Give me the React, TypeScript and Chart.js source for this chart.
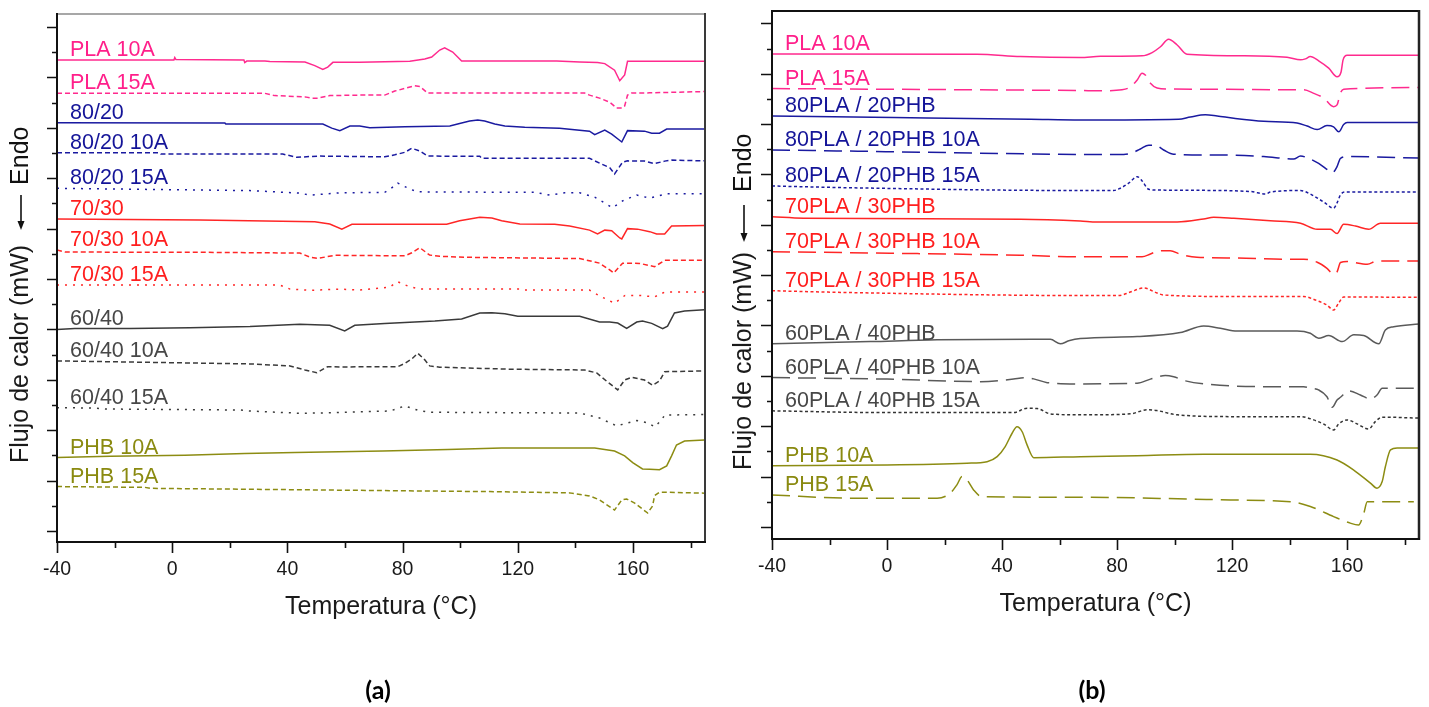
import { useEffect, useRef } from "react";
import { Chart, registerables } from "chart.js";

Chart.register(...registerables);

type Pt = [number, number];

// ---------------- shared axes ----------------
const tempMin = -40;
const tempMax = 185;
const xMajorTicks = [-40, 0, 40, 80, 120, 160];
const xMinorTicks = [-20, 20, 60, 100, 140, 180];
const yTicks = [0, 1, 2, 3, 4, 5, 6, 7, 8, 9, 10, 11, 12, 13, 14, 15, 16, 17, 18, 19, 20];
const yMajorTicks = [0, 2, 4, 6, 8, 10, 12, 14, 16, 18, 20];
const xTitle = "Temperatura (°C)";
const yTitle = "Flujo de calor (mW)";
const endoText = "Endo";

// ---------------- panel (a) ----------------
const namesA = ["PLA 10A", "PLA 15A", "80/20", "80/20 10A", "80/20 15A", "70/30", "70/30 10A", "70/30 15A", "60/40", "60/40 10A", "60/40 15A", "PHB 10A", "PHB 15A"];

const a_PLA10A: Pt[] = [[-40,18.69],[0.6,18.69],[0.9,18.79],[1.3,18.71],[24.9,18.69],[25.2,18.59],[25.9,18.65],[32.2,18.65],[33.9,18.63],[46.1,18.61],[49.5,18.47],[52.3,18.32],[54.0,18.41],[55.8,18.60],[65.1,18.60],[82.5,18.64],[87.7,18.73],[90.1,18.81],[92.9,19.09],[94.6,19.18],[97.4,19.01],[100.5,18.65],[133.5,18.65],[141.5,18.61],[147.7,18.59],[150.2,18.55],[153.6,18.29],[155.4,17.87],[157.1,18.10],[158.1,18.64],[184.8,18.64]];
const a_PLA15A: Pt[] = [[-40,17.37],[32.2,17.37],[35.6,17.28],[46.1,17.23],[48.5,17.18],[50.6,17.18],[54.7,17.28],[65.1,17.30],[73.8,17.30],[77.3,17.46],[84.2,17.67],[86.0,17.64],[88.7,17.38],[143.2,17.38],[144.9,17.30],[148.4,17.18],[151.9,17.02],[154.3,16.79],[156.1,16.79],[157.1,16.87],[158.1,17.30],[159.5,17.38],[165.8,17.39],[184.8,17.44]];
const a_8020: Pt[] = [[-40,16.20],[18.3,16.19],[18.6,16.15],[52.3,16.15],[55.4,15.99],[58.2,15.89],[61.7,16.07],[65.1,16.07],[68.6,16.00],[80.8,16.04],[96.4,16.07],[99.8,16.17],[103.3,16.27],[106.1,16.31],[108.5,16.27],[112.0,16.15],[115.5,16.07],[122.4,16.02],[134.5,15.98],[144.9,15.87],[146.7,15.73],[150.2,15.91],[152.6,15.75],[156.1,15.44],[158.1,15.89],[164.0,15.87],[166.5,15.79],[169.2,15.79],[171.7,15.95],[184.8,15.95]];
const a_8020_10A: Pt[] = [[-40,15.01],[-4.3,15.01],[-3.9,14.96],[38.4,14.96],[43.3,14.83],[50.6,14.88],[73.8,14.85],[77.3,14.93],[80.8,15.03],[83.2,15.19],[86.0,15.08],[88.7,14.88],[106.8,14.87],[107.5,14.79],[144.9,14.79],[148.4,14.60],[151.9,14.42],[153.6,14.17],[156.4,14.64],[158.1,14.69],[164.0,14.68],[167.5,14.58],[171.0,14.68],[173.4,14.72],[184.8,14.69]];
const a_8020_15A: Pt[] = [[-40,13.60],[27.0,13.51],[44.3,13.41],[47.8,13.33],[58.2,13.42],[73.8,13.44],[75.6,13.56],[78.3,13.81],[82.5,13.57],[85.3,13.46],[125.9,13.44],[131.1,13.33],[136.3,13.42],[141.5,13.42],[146.7,13.25],[152.9,12.83],[156.8,13.13],[161.3,13.33],[165.8,13.21],[171.7,13.38],[184.8,13.38]];
const a_7030: Pt[] = [[-40,12.38],[9.6,12.34],[49.5,12.27],[54.7,12.18],[58.9,11.98],[62.4,12.17],[95.3,12.17],[99.8,12.31],[103.3,12.38],[106.8,12.45],[111.0,12.42],[114.4,12.31],[120.7,12.18],[132.8,12.17],[138.0,12.10],[144.9,11.94],[147.7,11.79],[150.2,11.94],[152.6,11.92],[155.4,11.63],[156.1,11.59],[158.1,12.00],[161.6,11.98],[165.8,11.88],[168.2,11.79],[171.0,11.79],[173.4,12.10],[184.8,12.12]];
const a_7030_10A: Pt[] = [[-40,11.15],[-37.2,11.07],[9.6,11.06],[44.3,11.03],[47.8,10.87],[50.6,10.82],[56.5,10.94],[80.8,10.92],[83.2,11.04],[86.0,11.24],[89.4,10.95],[92.9,10.90],[103.3,10.86],[127.6,10.83],[141.5,10.81],[148.4,10.63],[151.9,10.36],[153.3,10.24],[156.4,10.63],[162.3,10.62],[167.5,10.49],[171.0,10.74],[184.8,10.74]];
const a_7030_15A: Pt[] = [[-40,9.76],[37.4,9.76],[40.9,9.60],[47.8,9.55],[58.2,9.60],[65.1,9.56],[75.6,9.68],[77.3,9.83],[78.3,9.89],[81.8,9.72],[86.0,9.60],[120.7,9.60],[122.4,9.56],[144.9,9.56],[148.4,9.33],[153.6,9.04],[157.1,9.34],[162.3,9.35],[167.5,9.29],[171.0,9.48],[184.8,9.48]];
const a_6040: Pt[] = [[-40,8.00],[-33.8,8.04],[-14.7,8.04],[6.2,8.07],[27.0,8.11],[44.3,8.20],[54.7,8.16],[59.9,7.94],[63.4,8.16],[73.8,8.23],[82.5,8.28],[91.2,8.33],[100.5,8.41],[106.8,8.65],[111.0,8.66],[115.5,8.62],[120.0,8.52],[141.5,8.52],[148.4,8.29],[151.9,8.29],[154.7,8.25],[157.8,8.04],[161.3,8.29],[163.3,8.33],[166.5,8.24],[170.3,8.03],[172.0,8.13],[174.4,8.65],[177.9,8.73],[184.8,8.78]];
const a_6040_10A: Pt[] = [[-40,6.75],[-18.1,6.71],[27.0,6.63],[40.9,6.55],[46.1,6.39],[50.2,6.28],[54.0,6.52],[58.2,6.51],[78.3,6.52],[80.8,6.65],[83.2,6.83],[85.3,7.05],[87.7,6.79],[89.4,6.55],[92.9,6.50],[117.2,6.42],[143.2,6.39],[147.4,6.27],[151.2,5.91],[154.7,5.60],[157.1,5.99],[159.5,6.10],[164.0,5.99],[166.8,5.78],[169.2,5.95],[171.0,6.32],[184.8,6.35]];
const a_6040_15A: Pt[] = [[-40,4.89],[-26.8,4.88],[-23.3,4.84],[23.5,4.80],[27.0,4.76],[44.3,4.67],[51.3,4.68],[59.9,4.71],[75.6,4.76],[80.8,4.96],[85.3,4.79],[89.4,4.71],[141.5,4.68],[148.4,4.48],[154.3,4.17],[157.1,4.25],[161.3,4.38],[165.1,4.29],[167.5,4.13],[169.9,4.40],[171.0,4.60],[184.8,4.62]];
const a_PHB10A: Pt[] = [[-40,2.91],[-21.6,2.96],[4.4,3.00],[25.2,3.07],[42.6,3.11],[73.1,3.17],[95.7,3.23],[114.4,3.29],[146.7,3.29],[153.6,3.17],[157.1,2.98],[159.9,2.71],[163.3,2.46],[165.8,2.45],[169.2,2.43],[171.7,2.58],[173.4,2.98],[175.1,3.41],[177.9,3.57],[184.8,3.61]];
const a_PHB15A: Pt[] = [[-40,1.76],[-9.5,1.73],[-7.7,1.69],[39.1,1.64],[73.8,1.60],[110.3,1.56],[138.0,1.51],[144.9,1.39],[148.4,1.23],[153.6,0.83],[156.1,1.23],[157.8,1.27],[160.6,1.10],[165.1,0.71],[166.8,0.99],[167.5,1.40],[169.2,1.54],[184.8,1.50]];

// ---------------- panel (b) ----------------
const namesB = ["PLA 10A", "PLA 15A", "80PLA / 20PHB", "80PLA / 20PHB 10A", "80PLA / 20PHB 15A", "70PLA / 30PHB", "70PLA / 30PHB 10A", "70PLA / 30PHB 15A", "60PLA / 40PHB", "60PLA / 40PHB 10A", "60PLA / 40PHB 15A", "PHB 10A", "PHB 15A"];

const b_PLA10A: Pt[] = [[-40,18.78],[31.3,18.77],[46.4,18.68],[67.2,18.64],[74.2,18.69],[88.7,18.71],[92.2,18.84],[95.1,19.07],[97.9,19.37],[100.9,19.14],[104.3,18.77],[122.9,18.71],[139.1,18.65],[143.8,18.55],[145.5,18.59],[147.2,18.68],[150.1,18.51],[153.6,18.22],[156.5,17.88],[157.9,18.07],[158.6,18.55],[160.0,18.73],[185,18.73]];
const b_PLA15A: Pt[] = [[-40,17.41],[31.3,17.36],[67.2,17.33],[74.2,17.32],[81.7,17.36],[84.6,17.47],[87.0,17.75],[88.7,18.02],[89.8,17.95],[91.6,17.62],[93.9,17.43],[98.5,17.39],[118.3,17.38],[139.1,17.36],[144.9,17.36],[148.4,17.22],[151.9,17.03],[155.3,16.69],[156.5,16.76],[157.7,17.24],[158.8,17.38],[185,17.45]];
const b_8020: Pt[] = [[-40,16.32],[2.3,16.26],[49.8,16.19],[67.2,16.16],[101.4,16.19],[105.5,16.28],[110.7,16.37],[114.8,16.32],[120.6,16.23],[131.0,16.11],[142.6,16.04],[146.1,15.92],[149.6,15.78],[153.0,15.94],[155.3,15.89],[157.1,15.69],[158.8,15.98],[160.0,16.06],[185,16.06]];
const b_8020_10A: Pt[] = [[-40,14.97],[2.2,14.90],[57.8,14.80],[67.2,14.79],[82.3,14.79],[85.2,14.85],[88.1,15.01],[91.0,15.16],[93.3,15.16],[96.2,14.97],[99.7,14.80],[115.9,14.77],[131.0,14.71],[141.4,14.61],[143.8,14.73],[146.6,14.64],[150.1,14.44],[153.6,14.15],[154.8,14.06],[156.5,14.31],[157.7,14.64],[160.6,14.71],[185,14.65]];
const b_8020_15A: Pt[] = [[-40,13.54],[-12.8,13.47],[67.2,13.36],[78.8,13.36],[81.1,13.45],[84.0,13.65],[87.0,13.91],[88.7,13.74],[91.0,13.41],[93.9,13.38],[105.5,13.37],[126.4,13.32],[131.6,13.22],[133.3,13.30],[143.8,13.36],[147.2,13.22],[151.9,12.90],[155.3,12.66],[156.5,12.87],[157.7,13.19],[159.4,13.30],[185,13.30]];
const b_7030: Pt[] = [[-40,12.32],[-29.0,12.26],[46.4,12.22],[67.2,12.15],[73.0,12.11],[100.9,12.11],[110.1,12.23],[113.6,12.30],[120.6,12.26],[133.3,12.16],[143.8,12.06],[149.6,11.82],[154.2,11.82],[156.5,11.65],[158.8,12.02],[162.9,11.95],[167.5,11.82],[171.6,12.06],[185,12.06]];
const b_7030_10A: Pt[] = [[-40,10.93],[1.1,10.87],[46.4,10.79],[67.2,10.73],[88.7,10.73],[91.6,10.84],[94.5,10.96],[98.5,10.97],[102.0,10.83],[107.8,10.71],[121.7,10.68],[137.9,10.63],[144.9,10.63],[149.6,10.51],[153.0,10.27],[155.3,10.04],[156.5,10.13],[157.7,10.50],[160.0,10.54],[167.0,10.43],[170.4,10.56],[185,10.56]];
const b_7030_15A: Pt[] = [[-40,9.38],[-13.9,9.31],[67.2,9.19],[80.6,9.19],[84.6,9.33],[89.3,9.49],[93.9,9.29],[96.2,9.21],[121.7,9.15],[144.9,9.15],[149.0,9.01],[153.0,8.81],[155.3,8.61],[157.1,8.90],[158.8,9.13],[185,9.12]];
const b_6040: Pt[] = [[-40,7.27],[-5.8,7.36],[17.4,7.43],[56.8,7.45],[60.3,7.27],[63.2,7.39],[67.2,7.48],[87.0,7.56],[102.0,7.72],[110.1,7.98],[115.9,7.89],[121.7,7.78],[142.6,7.78],[147.2,7.69],[150.1,7.49],[153.6,7.60],[158.3,7.36],[162.3,7.63],[165.8,7.60],[171.0,7.27],[173.3,7.82],[176.2,7.95],[185,8.06]];
const b_6040_10A: Pt[] = [[-40,5.93],[0,5.87],[32.5,5.77],[44.0,5.87],[47.5,5.92],[51.0,5.88],[55.7,5.73],[67.2,5.68],[87.0,5.71],[91.6,5.87],[96.8,6.01],[99.7,5.96],[103.8,5.80],[110.1,5.68],[133.3,5.57],[144.9,5.57],[147.2,5.51],[150.1,5.44],[153.0,5.17],[154.8,4.75],[156.5,5.04],[157.7,5.15],[160.6,5.40],[164.6,5.24],[168.1,5.08],[170.4,5.24],[172.2,5.51],[185,5.51]];
const b_6040_15A: Pt[] = [[-40,4.61],[0,4.54],[44.0,4.54],[48.7,4.71],[52.2,4.70],[56.8,4.49],[67.2,4.45],[84.6,4.49],[90.4,4.65],[93.9,4.62],[100.9,4.45],[121.7,4.38],[143.8,4.38],[148.4,4.25],[151.9,4.08],[155.3,3.85],[157.1,4.09],[160.0,4.25],[163.5,4.09],[167.5,3.89],[169.8,4.18],[172.2,4.36],[185,4.32]];
const b_PHB10A: Pt[] = [[-40,2.43],[0,2.46],[27.8,2.53],[34.8,2.59],[38.3,2.79],[41.1,3.19],[43.5,3.72],[45.2,3.98],[47.0,3.78],[48.7,3.26],[51.0,2.75],[67.2,2.79],[87.0,2.83],[110.1,2.89],[147.2,2.89],[156.5,2.66],[162.3,2.26],[168.1,1.74],[170.4,1.54],[172.2,1.80],[173.3,2.39],[175.1,3.06],[177.4,3.13],[185,3.13]];
const b_PHB15A: Pt[] = [[-40,1.27],[-11.6,1.14],[17.4,1.14],[22.0,1.34],[24.3,1.67],[26.1,2.00],[27.8,1.87],[30.1,1.47],[33.0,1.20],[67.2,1.18],[104.3,1.11],[119.4,1.07],[140.3,1.00],[147.2,0.81],[155.3,0.41],[161.1,0.15],[164.0,0.08],[165.8,0.54],[167.0,1.00],[183.2,1.00]];

const seriesA = [a_PLA10A, a_PLA15A, a_8020, a_8020_10A, a_8020_15A, a_7030, a_7030_10A, a_7030_15A, a_6040, a_6040_10A, a_6040_15A, a_PHB10A, a_PHB15A];
const seriesB = [b_PLA10A, b_PLA15A, b_8020, b_8020_10A, b_8020_15A, b_7030, b_7030_10A, b_7030_15A, b_6040, b_6040_10A, b_6040_15A, b_PHB10A, b_PHB15A];

// ---------------- styles ----------------
const PINK = "#FF2A8E";
const BLUE = "#1A1AA0";
const RED = "#FF2626";
const GRAY_A = "#3A3A3A";
const GRAY_B = "#5A5A5A";
const OLIVE = "#8C8C12";

const DASH_A = [5, 3];
const DOT_A = [2, 6];
const DASH_B = [18, 8];
const DOT_B = [3, 2.5];

type Sty = { color: string; text: string; dash: number[] };
const stylesA: Sty[] = [
  { color: PINK, text: "#FF1F8A", dash: [] },
  { color: PINK, text: "#FF1F8A", dash: DASH_A },
  { color: BLUE, text: "#141498", dash: [] },
  { color: BLUE, text: "#141498", dash: DASH_A },
  { color: BLUE, text: "#141498", dash: DOT_A },
  { color: RED, text: "#FF1E1E", dash: [] },
  { color: RED, text: "#FF1E1E", dash: DASH_A },
  { color: RED, text: "#FF1E1E", dash: DOT_A },
  { color: GRAY_A, text: "#474747", dash: [] },
  { color: GRAY_A, text: "#474747", dash: DASH_A },
  { color: GRAY_A, text: "#474747", dash: DOT_A },
  { color: OLIVE, text: "#8A8A10", dash: [] },
  { color: OLIVE, text: "#8A8A10", dash: DASH_A },
];
const stylesB: Sty[] = [
  { color: PINK, text: "#FF1F8A", dash: [] },
  { color: PINK, text: "#FF1F8A", dash: DASH_B },
  { color: BLUE, text: "#141498", dash: [] },
  { color: BLUE, text: "#141498", dash: DASH_B },
  { color: BLUE, text: "#141498", dash: DOT_B },
  { color: RED, text: "#FF1E1E", dash: [] },
  { color: RED, text: "#FF1E1E", dash: DASH_B },
  { color: RED, text: "#FF1E1E", dash: DOT_B },
  { color: GRAY_B, text: "#474747", dash: [] },
  { color: GRAY_B, text: "#474747", dash: DASH_B },
  { color: "#333333", text: "#474747", dash: DOT_B },
  { color: OLIVE, text: "#8A8A10", dash: [] },
  { color: OLIVE, text: "#8A8A10", dash: DASH_B },
];

const FONT = '"Liberation Sans", Arial, sans-serif';

type PanelCfg = {
  id: string;
  series: Pt[][];
  names: string[];
  styles: Sty[];
  yMin: number;
  yMax: number;
  padding: { left: number; top: number; right: number; bottom: number };
  smooth: boolean;
  yLong: number;
  yShort: number;
  topColor: string;
  topWidth: number;
  rightColor: string;
  rightWidth: number;
  yTitleX: number;
  yTitleStart: number;
  arrowGap: number;
  arrowLen: number;
  endoGap: number;
  letter: string;
  letterX: number;
  letterY: number;
};

function makeDecor(cfg: PanelCfg) {
  return {
    id: "decor_" + cfg.id,
    afterDraw(chart: any) {
      const ctx: CanvasRenderingContext2D = chart.ctx;
      const ca = chart.chartArea;
      const xs = chart.scales.x;
      const ys = chart.scales.y;
      ctx.save();

      // curve labels
      ctx.font = `21.5px ${FONT}`;
      ctx.textAlign = "left";
      ctx.textBaseline = "alphabetic";
      cfg.series.forEach((s, i) => {
        ctx.fillStyle = cfg.styles[i].text;
        ctx.fillText(cfg.names[i], ca.left + 13, ys.getPixelForValue(s[0][1]) - 4);
      });

      // frame
      ctx.setLineDash([]);
      ctx.lineCap = "butt";
      ctx.strokeStyle = cfg.topColor;
      ctx.lineWidth = cfg.topWidth;
      ctx.beginPath();
      ctx.moveTo(ca.left, ca.top);
      ctx.lineTo(ca.right, ca.top);
      ctx.stroke();
      ctx.strokeStyle = cfg.rightColor;
      ctx.lineWidth = cfg.rightWidth;
      ctx.beginPath();
      ctx.moveTo(ca.right, ca.top - 1);
      ctx.lineTo(ca.right, ca.bottom + 1);
      ctx.stroke();
      ctx.strokeStyle = "#111";
      ctx.lineWidth = 2;
      ctx.beginPath();
      ctx.moveTo(ca.left, ca.top - 1);
      ctx.lineTo(ca.left, ca.bottom + 1);
      ctx.moveTo(ca.left - 1, ca.bottom);
      ctx.lineTo(ca.right + 1, ca.bottom);
      ctx.stroke();

      // y ticks
      ctx.lineWidth = 1.6;
      ctx.beginPath();
      yTicks.forEach((v) => {
        const py = Math.round(ys.getPixelForValue(v)) + 0.5;
        const len = yMajorTicks.includes(v) ? cfg.yLong : cfg.yShort;
        ctx.moveTo(ca.left - len, py);
        ctx.lineTo(ca.left, py);
      });
      // x ticks
      xMajorTicks.forEach((v) => {
        const px = Math.round(xs.getPixelForValue(v)) + 0.5;
        ctx.moveTo(px, ca.bottom);
        ctx.lineTo(px, ca.bottom + 11);
      });
      xMinorTicks.forEach((v) => {
        const px = Math.round(xs.getPixelForValue(v)) + 0.5;
        ctx.moveTo(px, ca.bottom);
        ctx.lineTo(px, ca.bottom + 6);
      });
      ctx.stroke();

      // x tick labels
      ctx.fillStyle = "#1a1a1a";
      ctx.font = `19.5px ${FONT}`;
      ctx.textAlign = "center";
      ctx.textBaseline = "middle";
      xMajorTicks.forEach((v) => {
        ctx.fillText(String(v), xs.getPixelForValue(v), ca.bottom + 28);
      });

      // x title
      ctx.font = `25px ${FONT}`;
      ctx.fillText(xTitle, (ca.left + ca.right) / 2, ca.bottom + 65);

      // y title with arrow
      ctx.save();
      ctx.translate(cfg.yTitleX, 0);
      ctx.rotate(-Math.PI / 2);
      ctx.textAlign = "left";
      ctx.textBaseline = "middle";
      let u = -cfg.yTitleStart;
      ctx.fillText(yTitle, u, 0);
      u += ctx.measureText(yTitle).width + cfg.arrowGap;
      ctx.strokeStyle = "#111";
      ctx.fillStyle = "#111";
      ctx.lineWidth = 1.6;
      ctx.beginPath();
      ctx.moveTo(u + 6, 0);
      ctx.lineTo(u + cfg.arrowLen, 0);
      ctx.stroke();
      ctx.beginPath();
      ctx.moveTo(u, 0);
      ctx.lineTo(u + 9, -3.5);
      ctx.lineTo(u + 9, 3.5);
      ctx.closePath();
      ctx.fill();
      u += cfg.arrowLen + cfg.endoGap;
      ctx.fillText(endoText, u, 0);
      ctx.restore();

      // panel letter
      ctx.fillStyle = "#000";
      ctx.font = `bold 25px Lato, "Open Sans", sans-serif`;
      ctx.textAlign = "center";
      ctx.textBaseline = "middle";
      ctx.fillText(cfg.letter, cfg.letterX, cfg.letterY);

      ctx.restore();
    },
  };
}

function Panel({ cfg, left, width }: { cfg: PanelCfg; left: number; width: number }) {
  const ref = useRef<HTMLCanvasElement | null>(null);
  useEffect(() => {
    const canvas = ref.current;
    if (!canvas) return;
    const chart = new Chart(canvas, {
      type: "line",
      data: {
        datasets: cfg.series.map((s, i) => ({
          label: cfg.names[i],
          data: s.map(([x, y]) => ({ x, y })),
          borderColor: cfg.styles[i].color,
          borderWidth: 1.5,
          borderDash: cfg.styles[i].dash,
          pointRadius: 0,
          fill: false,
          tension: 0,
          cubicInterpolationMode: cfg.smooth ? "monotone" : "default",
        })),
      },
      options: {
        responsive: false,
        animation: false,
        events: [],
        layout: { padding: cfg.padding },
        scales: {
          x: { type: "linear", min: tempMin, max: tempMax, display: false },
          y: { type: "linear", min: cfg.yMin, max: cfg.yMax, display: false },
        },
        plugins: { legend: { display: false }, tooltip: { enabled: false } },
      },
      plugins: [makeDecor(cfg)],
    } as any);
    return () => chart.destroy();
  }, [cfg]);
  return (
    <canvas
      ref={ref}
      width={width}
      height={707}
      style={{ position: "absolute", left, top: 0, width, height: 707 }}
    />
  );
}

const cfgA: PanelCfg = {
  id: "a",
  series: seriesA,
  names: namesA,
  styles: stylesA,
  yMin: -0.44,
  yMax: 20.52,
  padding: { left: 57, top: 14, right: 9, bottom: 165 },
  smooth: false,
  yLong: 10,
  yShort: 5,
  topColor: "#8a8a8a",
  topWidth: 1.5,
  rightColor: "#3a3a3a",
  rightWidth: 2,
  yTitleX: 21,
  yTitleStart: 463,
  arrowGap: 15,
  arrowLen: 35,
  endoGap: 10,
  letter: "(a)",
  letterX: 378,
  letterY: 691,
};

const cfgB: PanelCfg = {
  id: "b",
  series: seriesB,
  names: namesB,
  styles: stylesB,
  yMin: -0.48,
  yMax: 20.49,
  padding: { left: 58, top: 11, right: 10, bottom: 168 },
  smooth: true,
  yLong: 11,
  yShort: 5,
  topColor: "#111",
  topWidth: 2,
  rightColor: "#222",
  rightWidth: 2.5,
  yTitleX: 30,
  yTitleStart: 470,
  arrowGap: 10,
  arrowLen: 37,
  endoGap: 13,
  letter: "(b)",
  letterX: 378,
  letterY: 691,
};

export default function App() {
  return (
    <div style={{ position: "fixed", left: 0, top: 0, width: 1429, height: 707, background: "#fff" }}>
      <Panel cfg={cfgA} left={0} width={714} />
      <Panel cfg={cfgB} left={714} width={715} />
    </div>
  );
}
